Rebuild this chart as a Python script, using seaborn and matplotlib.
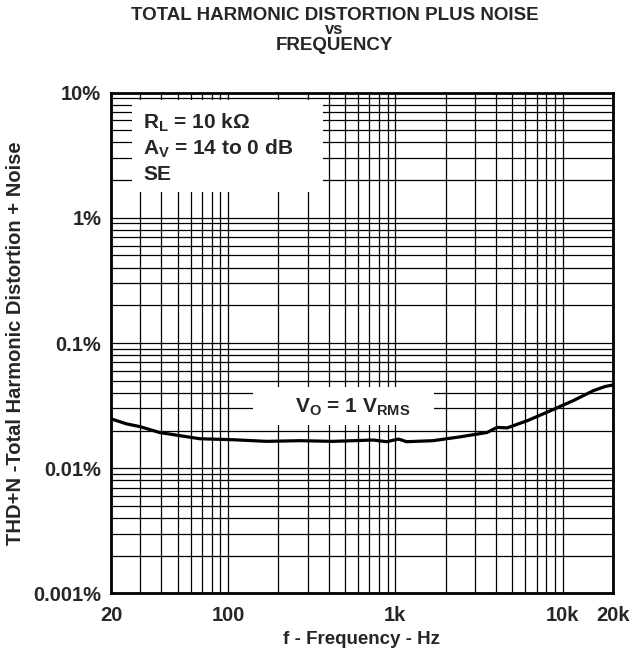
import numpy as np
import pandas as pd
import matplotlib
matplotlib.use("Agg")
import matplotlib.pyplot as plt
import seaborn as sns
from matplotlib.patches import Rectangle
from matplotlib.ticker import FixedLocator, FixedFormatter, NullFormatter

# THD+N curve
freq_hz = [20, 24.8, 29.8, 39, 51.7, 68, 107, 170, 269, 424, 737, 888, 1046,
           1167, 1680, 2432, 3535, 4060, 4667, 6160, 8415, 11650, 15300, 18000, 20000]
thdn_pct = [0.0248, 0.0226, 0.0215, 0.0193, 0.0182, 0.0172, 0.0169, 0.0164, 0.0166,
            0.0164, 0.0168, 0.0163, 0.0171, 0.0163, 0.0166, 0.0178, 0.0193, 0.0212,
            0.0210, 0.0240, 0.0287, 0.0348, 0.0417, 0.0450, 0.0462]

x_ticks = [20, 100, 1000, 10000, 20000]
x_labels = ["20", "100", "1k", "10k", "20k"]
y_ticks = [0.001, 0.01, 0.1, 1, 10]
y_labels = ["0.001%", "0.01%", "0.1%", "1%", "10%"]

df = pd.DataFrame({"f": freq_hz, "thd": thdn_pct})

sns.set_style("white")
plt.rcParams['font.family'] = ['Liberation Sans', 'DejaVu Sans']
plt.rcParams['font.weight'] = 'bold'
plt.rcParams['mathtext.fontset'] = 'custom'
plt.rcParams['mathtext.rm'] = 'Liberation Sans:bold'
plt.rcParams['mathtext.it'] = 'Liberation Sans:bold'
plt.rcParams['mathtext.default'] = 'regular'

fig = plt.figure(figsize=(6.32, 6.59), dpi=100)
ax = fig.add_axes([0.1756, 0.0994, 0.7943, 0.7602])

sns.lineplot(data=df, x="f", y="thd", color="black", linewidth=2.3, ax=ax, zorder=3)

ax.set_xscale("log")
ax.set_yscale("log")
ax.set_xlim(20, 20000)
ax.set_ylim(0.001, 10)

# minor grid positions 2..9 per decade
xminor = [m * 10**e for e in range(1, 5) for m in range(2, 10) if 20 <= m * 10**e <= 20000]
yminor = [m * 10**e for e in range(-3, 1) for m in range(2, 10)]
ax.xaxis.set_major_locator(FixedLocator(x_ticks))
ax.xaxis.set_major_formatter(FixedFormatter(x_labels))
ax.xaxis.set_minor_locator(FixedLocator(xminor))
ax.xaxis.set_minor_formatter(NullFormatter())
ax.yaxis.set_major_locator(FixedLocator(y_ticks))
ax.yaxis.set_major_formatter(FixedFormatter(y_labels))
ax.yaxis.set_minor_locator(FixedLocator(yminor))
ax.yaxis.set_minor_formatter(NullFormatter())

ax.grid(which="both", color="black", linewidth=0.9)
ax.set_axisbelow(True)
ax.tick_params(which="both", length=0, labelsize=14.5)
ax.tick_params(axis="x", pad=9)
ax.tick_params(axis="y", pad=7)
for lab in ax.get_xticklabels() + ax.get_yticklabels():
    lab.set_fontweight("bold")
for s in ax.spines.values():
    s.set_linewidth(2)
    s.set_color("black")

ax.set_xlabel("f - Frequency - Hz", fontsize=13.5, fontweight="bold", labelpad=4)
ax.set_ylabel("THD+N -Total Harmonic Distortion + Noise", fontsize=14.5,
              fontweight="bold", labelpad=6)

# white boxes behind annotations
ax.add_patch(Rectangle((0.042, 0.801), 0.38, 0.184, transform=ax.transAxes,
                       facecolor="white", edgecolor="none", zorder=2.5))
ax.add_patch(Rectangle((0.283, 0.336), 0.36, 0.076, transform=ax.transAxes,
                       facecolor="white", edgecolor="none", zorder=2.5))

tkw = dict(transform=ax.transAxes, fontsize=15, fontweight="bold", zorder=4)
ax.text(0.064, 0.940, r"R$_{L}$ = 10 kΩ", va="center", ha="left", **tkw)
ax.text(0.064, 0.888, r"A$_{V}$ = 14 to 0 dB", va="center", ha="left", **tkw)
ax.text(0.064, 0.836, "SE", va="center", ha="left", **tkw)
ax.text(0.482, 0.372, r"V$_{O}$ = 1 V$_{RMS}$", va="center", ha="center", **tkw)

fig.text(0.529, 0.977, "TOTAL HARMONIC DISTORTION PLUS NOISE", ha="center", va="center",
         fontsize=13.5, fontweight="bold")
fig.text(0.529, 0.955, "vs", ha="center", va="center", fontsize=12, fontweight="bold")
fig.text(0.529, 0.931, "FREQUENCY", ha="center", va="center", fontsize=13.5, fontweight="bold")

fig.savefig("out.png", dpi=100)
